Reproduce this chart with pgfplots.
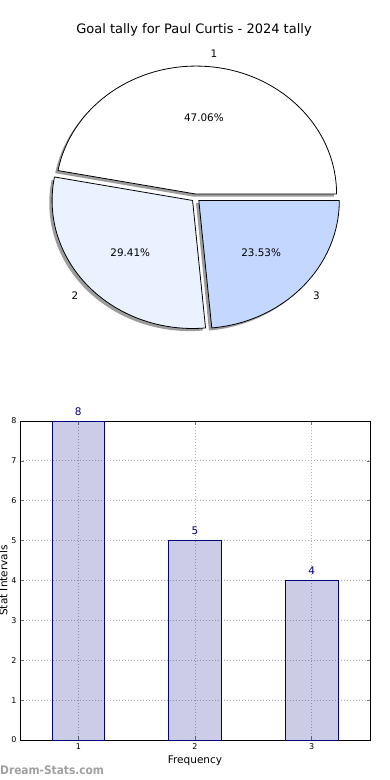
\documentclass[border=0pt]{standalone}
\usepackage{fontspec}
\setmainfont{DejaVu Sans}
\newfontfamily\wmfont{DejaVu Sans Condensed}
\usepackage{pgfplots}
\pgfplotsset{compat=1.18}
\definecolor{slicetwo}{HTML}{EBF2FF}
\definecolor{slicethree}{HTML}{C4D8FF}
\definecolor{shadowc}{HTML}{9C9C9C}
\definecolor{navyc}{HTML}{000080}
\definecolor{gridc}{HTML}{B0B0B0}
\definecolor{wmc}{HTML}{A0A0A0}

% pie data (goal tally)
\def\va{8}\def\vb{5}\def\vc{4}
% geometry (bp)
\def\cx{195.7}\def\cy{582.1}
\def\rx{140.5}\def\ry{128}
\def\ex{0.03}

\newcommand\sliceprep[3]{% #1 tag, #2 start angle, #3 end angle
  \pgfmathsetmacro\tmpm{(#2+#3)/2}%
  \pgfmathsetmacro\tmpox{\cx+\ex*\rx*cos(\tmpm)}%
  \pgfmathsetmacro\tmpoy{\cy+\ex*\ry*sin(\tmpm)}%
  \expandafter\xdef\csname ox#1\endcsname{\tmpox}%
  \expandafter\xdef\csname oy#1\endcsname{\tmpoy}%
  \pgfmathsetmacro\tmp{\tmpox+\rx*cos(#2)}\expandafter\xdef\csname sx#1\endcsname{\tmp}%
  \pgfmathsetmacro\tmp{\tmpoy+\ry*sin(#2)}\expandafter\xdef\csname sy#1\endcsname{\tmp}%
  \pgfmathsetmacro\tmp{\tmpox+0.6*\rx*cos(\tmpm)}\expandafter\xdef\csname px#1\endcsname{\tmp}%
  \pgfmathsetmacro\tmp{\tmpoy+0.6*\ry*sin(\tmpm)}\expandafter\xdef\csname py#1\endcsname{\tmp}%
  \pgfmathsetmacro\tmp{\tmpox+1.1*\rx*cos(\tmpm)}\expandafter\xdef\csname lx#1\endcsname{\tmp}%
  \pgfmathsetmacro\tmp{\tmpoy+1.1*\ry*sin(\tmpm)}\expandafter\xdef\csname ly#1\endcsname{\tmp}%
  \expandafter\xdef\csname st#1\endcsname{#2}%
  \expandafter\xdef\csname en#1\endcsname{#3}%
}

\begin{document}
\begin{tikzpicture}
\useasboundingbox (0,0) rectangle (390bp,780bp);
\pgfmathsetmacro\tot{\va+\vb+\vc}
\pgfmathsetmacro\aB{360*\va/\tot}
\pgfmathsetmacro\aC{360*(\va+\vb)/\tot}
\pgfmathsetmacro\pA{100*\va/\tot}
\pgfmathsetmacro\pB{100*\vb/\tot}
\pgfmathsetmacro\pC{100*\vc/\tot}
\sliceprep{A}{0}{\aB}
\sliceprep{B}{\aB}{\aC}
\sliceprep{C}{\aC}{360}

% ---------- pie ----------
\begin{axis}[at={(0bp,0bp)}, anchor=south west, scale only axis,
  width=390bp, height=780bp, xmin=0, xmax=390, ymin=0, ymax=780,
  hide axis, clip=false]
% shadows
\fill[shadowc] ({\oxA-2.8},{\oyA-2.6}) -- ({\sxA-2.8},{\syA-2.6}) arc[start angle=\stA, end angle=\enA, x radius=\rx bp, y radius=\ry bp] -- cycle;
\fill[shadowc] ({\oxB-2.8},{\oyB-2.6}) -- ({\sxB-2.8},{\syB-2.6}) arc[start angle=\stB, end angle=\enB, x radius=\rx bp, y radius=\ry bp] -- cycle;
\fill[shadowc] ({\oxC-2.8},{\oyC-2.6}) -- ({\sxC-2.8},{\syC-2.6}) arc[start angle=\stC, end angle=\enC, x radius=\rx bp, y radius=\ry bp] -- cycle;
% slices
\filldraw[fill=white, draw=black, line width=0.8bp, line join=round] (\oxA,\oyA) -- (\sxA,\syA) arc[start angle=\stA, end angle=\enA, x radius=\rx bp, y radius=\ry bp] -- cycle;
\filldraw[fill=slicetwo, draw=black, line width=0.8bp, line join=round] (\oxB,\oyB) -- (\sxB,\syB) arc[start angle=\stB, end angle=\enB, x radius=\rx bp, y radius=\ry bp] -- cycle;
\filldraw[fill=slicethree, draw=black, line width=0.8bp, line join=round] (\oxC,\oyC) -- (\sxC,\syC) arc[start angle=\stC, end angle=\enC, x radius=\rx bp, y radius=\ry bp] -- cycle;
% percentages
\node[font=\fontsize{10.4bp}{12bp}\selectfont] at (\pxA,\pyA) {\pgfmathprintnumber[fixed,fixed zerofill,precision=2,assume math mode=true]{\pA}\%};
\node[font=\fontsize{10.4bp}{12bp}\selectfont] at (\pxB,\pyB) {\pgfmathprintnumber[fixed,fixed zerofill,precision=2,assume math mode=true]{\pB}\%};
\node[font=\fontsize{10.4bp}{12bp}\selectfont] at (\pxC,\pyC) {\pgfmathprintnumber[fixed,fixed zerofill,precision=2,assume math mode=true]{\pC}\%};
% labels
\node[font=\fontsize{10.4bp}{12bp}\selectfont, anchor=west, inner sep=0pt] at (\lxA,\lyA) {1};
\node[font=\fontsize{10.4bp}{12bp}\selectfont, anchor=east, inner sep=0pt] at (\lxB,\lyB) {2};
\node[font=\fontsize{10.4bp}{12bp}\selectfont, anchor=west, inner sep=0pt] at (\lxC,\lyC) {3};
% title
\node[font=\fontsize{13bp}{15bp}\selectfont, anchor=base, inner sep=0pt] at (194,746) {Goal tally for Paul Curtis - 2024 tally};
% watermark
\node[font=\wmfont\bfseries\fontsize{11.8bp}{14bp}\selectfont, text=wmc, anchor=base west, inner sep=0pt] at (0,6) {Dream-Stats.com};
\end{axis}

% ---------- bars ----------
\begin{axis}[at={(20bp,40bp)}, anchor=south west, scale only axis,
  width=350bp, height=319bp,
  xmin=0.5, xmax=3.5, ymin=0, ymax=8,
  xtick={1,2,3}, ytick={0,1,...,8},
  ybar, bar width=0.45,
  axis line style={black, line width=0.9bp},
  tick style={black!55, line width=0.7bp},
  tick align=inside, major tick length=3.5bp,
  grid=major,
  major grid style={gridc, line width=0.9bp, dash pattern=on 1bp off 2bp},
  /pgf/number format/assume math mode=true,
  ticklabel style={font=\fontsize{8bp}{9bp}\selectfont},
  xlabel={Frequency}, ylabel={Stat Intervals},
  every axis x label/.style={at={(axis description cs:0.5,0)}, anchor=base, yshift=-23.5bp, font=\fontsize{10.5bp}{12bp}\selectfont},
  every axis y label/.style={at={(axis description cs:0,0.5)}, anchor=base, rotate=90, yshift=12.7bp, font=\fontsize{10.5bp}{12bp}\selectfont},
  nodes near coords,
  every node near coord/.append style={text=navyc, text opacity=1, fill opacity=1, font=\fontsize{10.5bp}{12bp}\selectfont, yshift=2bp},
  clip=false,
]
\addplot[fill=navyc, fill opacity=0.2, draw=navyc, draw opacity=1, line width=0.8bp] coordinates {(1,8) (2,5) (3,4)};
\end{axis}
\end{tikzpicture}
\end{document}
